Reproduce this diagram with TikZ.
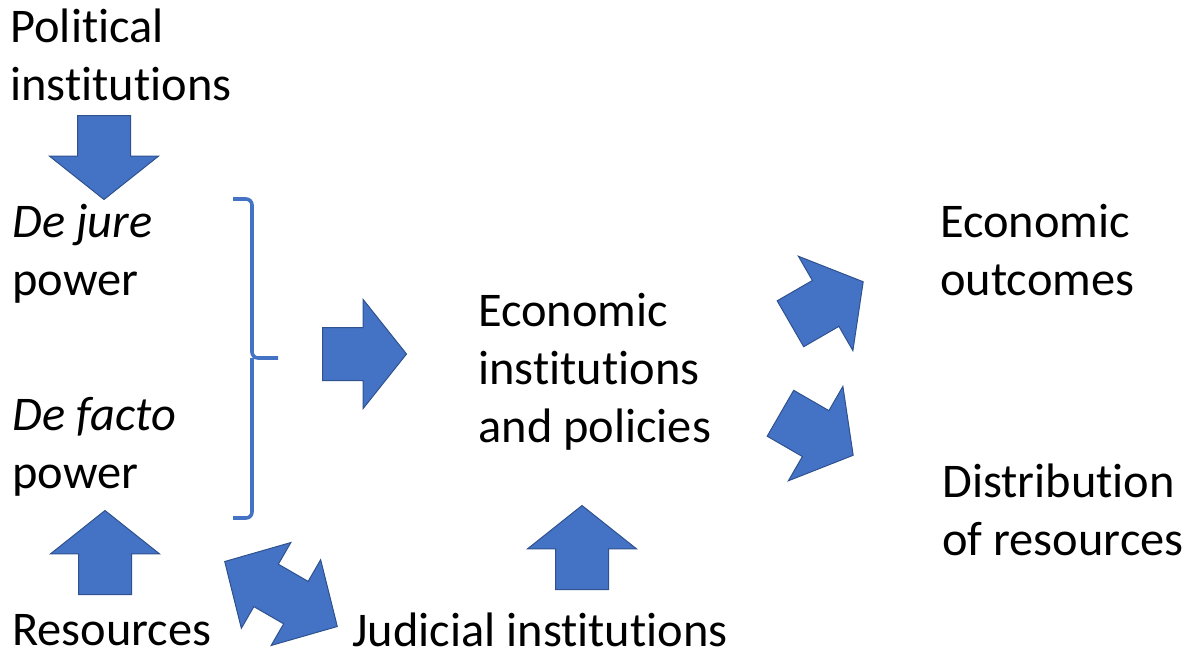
\documentclass[tikz,border=0pt]{standalone}
\usepackage{fontspec}
\setmainfont{Carlito}[RawFeature={-liga;-clig;-calt;-dlig}]
\usepackage{tikz}
\usetikzlibrary{shapes.arrows}
\definecolor{arrowfill}{HTML}{4472C4}
\definecolor{arrowline}{HTML}{2F528F}
\tikzset{
    label text/.style={
        align=left,
        anchor=base west,
        inner sep=0pt,
        font=\fontsize{24.2}{29}\selectfont
    },
    block arrow/.style={
        single arrow,
        fill=arrowfill,
        draw=arrowline,
        line width=0.5pt,
        text height=0pt,
        text depth=0pt,
        inner xsep=0pt,
        inner ysep=13pt,
        minimum width=0pt,
        minimum height=42pt,
        single arrow head extend=14pt,
        single arrow tip angle=103,
        anchor=tail
    },
    both arrow/.style={
        double arrow,
        fill=arrowfill,
        draw=arrowline,
        line width=0.5pt,
        text height=0pt,
        text depth=0pt,
        inner xsep=0pt,
        inner ysep=12pt,
        minimum width=0pt,
        minimum height=65pt,
        double arrow head extend=12.5pt,
        double arrow tip angle=92
    },
    bracket/.style={
        draw=arrowfill,
        line width=1.8pt,
        rounded corners=3pt
    }
}

\begin{document}
\begin{tikzpicture}[x=0.5pt,y=-0.5pt]
    \useasboundingbox (0,0) rectangle (1193,659);
    % texts (anchored at the baseline of their last line)
    \node[label text] (political) at (10,100) {Political\\institutions};
    \node[label text] (dejure) at (12,295) {\itshape De jure\\power};
    \node[label text] (defacto) at (12,488) {\itshape De facto\\power};
    \node[label text] (resources) at (12,645) {Resources};
    \node[label text] (judicial) at (352,646) {Judicial institutions};
    \node[label text] (econinst) at (478,442) {Economic\\institutions\\and policies};
    \node[label text] (outcomes) at (940,295) {Economic\\outcomes};
    \node[label text] (distrib) at (942,555) {Distribution\\of resources};
    % block arrows
    \foreach \s/\p/\r in {pdown/{(104,115)}/-90, rup/{(105,595)}/90,
                          pright/{(322,354)}/0, jup/{(582,590)}/90,
                          oup/{(790,324)}/30, ddown/{(780,413)}/-30}
      \node[block arrow,rotate=\r] (\s) at \p {};
    \node[both arrow,rotate=-30] (rj) at (281,594) {};
    % bracket
    \coordinate (bmid) at (252,358);
    \draw[bracket] (233,199) -| (bmid) -- ++(26,0);
    \draw[bracket] (bmid) |- (233,518);
\end{tikzpicture}
\end{document}
